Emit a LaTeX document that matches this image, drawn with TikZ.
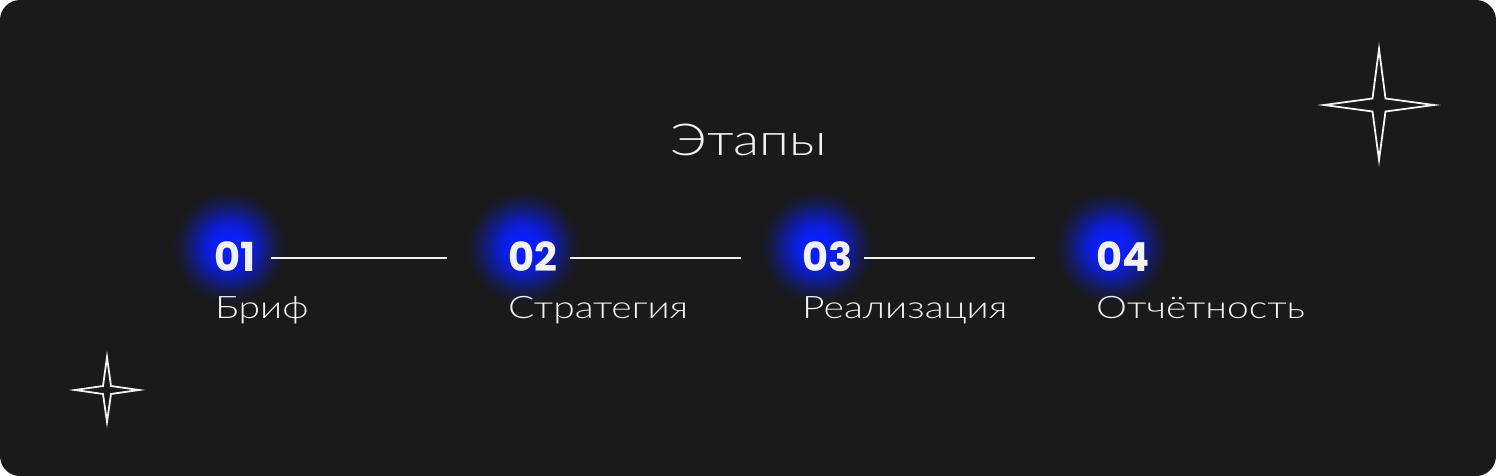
\documentclass[tikz,border=0pt]{standalone}
\usepackage{fontspec}
\newfontfamily\titlefont[FakeStretch=1.22]{Lato Light}
\newfontfamily\lightfont[FakeStretch=1.26]{Lato Light}
\newfontfamily\numfont{Poppins Bold}
\definecolor{bg}{HTML}{1A1A1A}
\definecolor{gl}{HTML}{0A1EF5}
\definecolor{fg}{HTML}{F2F2F2}
\pgfdeclareradialshading{glowshade}{\pgfpoint{0bp}{0bp}}{%
  color(0bp)=(gl); color(6bp)=(gl); color(10bp)=(gl!85!bg); color(14bp)=(gl!58!bg);
  color(18bp)=(gl!30!bg); color(22bp)=(gl!9!bg); color(25bp)=(bg); color(50bp)=(bg)}
\begin{document}
\begin{tikzpicture}[x=1pt,y=-1pt,
  title/.style={font=\titlefont\fontsize{44}{48}\selectfont, text=fg, inner sep=0pt, anchor=base},
  num/.style={font=\numfont\fontsize{40}{44}\selectfont, text=fg, inner sep=0pt, anchor=base west},
  lbl/.style={font=\lightfont\fontsize{31}{36}\selectfont, text=fg, inner sep=0pt, anchor=base west},
  conn/.style={draw=fg, line width=2pt},
  starline/.style={draw=fg, line width=1.8pt, line join=miter, miter limit=20}]
\fill[white] (0,0) rectangle (1496,476);
\useasboundingbox (0,0) rectangle (1496,476);
\fill[bg, rounded corners=20pt] (0,0) rectangle (1496,476);
% glows
\foreach \x in {229,523,817,1111}
  \shade[shading=glowshade] (\x,247) circle (58);
% title
\node[title] (t) at (749,155) {Этапы};
% numbers
\node[num] (d1) at (214,271) {01};
\node[num] (d2) at (508,271) {02};
\node[num] (d3) at (802,271) {03};
\node[num] (d4) at (1096,271) {04};
% labels
\node[lbl] (l1) at (215,318) {Бриф};
\node[lbl] (l2) at (508,318) {Стратегия};
\node[lbl] (l3) at (802,318) {Реализация};
\node[lbl] (l4) at (1096,318) {Отчётность};
% connectors
\coordinate (s1) at (271,258); \coordinate (e1) at (447,258);
\coordinate (s2) at (570,258); \coordinate (e2) at (741,258);
\coordinate (s3) at (864,258); \coordinate (e3) at (1035,258);
\draw[conn] (s1) -- (e1);
\draw[conn] (s2) -- (e2);
\draw[conn] (s3) -- (e3);
% stars
\draw[starline] (1379,49) -- (1385.5,98.5) -- (1434,105) -- (1385.5,111.5) -- (1379,160) -- (1372.5,111.5) -- (1324,105) -- (1372.5,98.5) -- cycle;
\draw[starline] (107,357) -- (111,386) -- (139,390) -- (111,394) -- (107,422) -- (103,394) -- (75,390) -- (103,386) -- cycle;
\end{tikzpicture}
\end{document}
